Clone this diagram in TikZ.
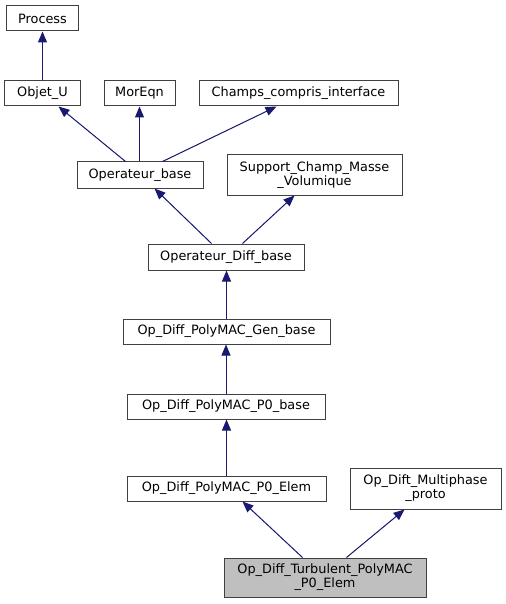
\documentclass[tikz,border=0pt]{standalone}
\usepackage{fontspec}
\setmainfont{DejaVu Sans}
\usetikzlibrary{arrows.meta,calc}
\definecolor{edgeblue}{HTML}{191970}
\definecolor{boxgray}{HTML}{404040}
\begin{document}
\begin{tikzpicture}[x=1bp,y=-1bp,
  cls/.style={draw=boxgray,line width=1bp,fill=white,inner sep=0pt,align=center,
    font=\fontsize{12.9}{14}\selectfont},
  cur/.style={cls,fill=black!25},
  inh/.style={draw=edgeblue,line width=1bp,-{Triangle[length=11bp,width=9bp]},fill=edgeblue}]
\useasboundingbox (0,0) rectangle (506,604);
\node[cls,minimum width=71bp,minimum height=25bp] (process) at (42.5,18.5) {Process};
\node[cls,minimum width=75bp,minimum height=25bp] (objet) at (42.5,93.5) {Objet\_U};
\node[cls,minimum width=71bp,minimum height=25bp] (moreqn) at (139.5,93.5) {MorEqn};
\node[cls,minimum width=199bp,minimum height=25bp] (champs) at (298.5,93.5) {Champs\_compris\_interface};
\node[cls,minimum width=126bp,minimum height=26bp] (opb) at (140,175) {Operateur\_base};
\node[cls,minimum width=175bp,minimum height=40bp] (support) at (314.5,175) {Support\_Champ\_Masse\\\_Volumique};
\node[cls,minimum width=156bp,minimum height=26bp] (odb) at (226,257) {Operateur\_Diff\_base};
\node[cls,minimum width=207bp,minimum height=25bp] (gen) at (226.5,331.5) {Op\_Diff\_PolyMAC\_Gen\_base};
\node[cls,minimum width=198bp,minimum height=25bp] (p0base) at (226,406.5) {Op\_Diff\_PolyMAC\_P0\_base};
\node[cls,minimum width=199bp,minimum height=25bp] (p0elem) at (226.5,488.5) {Op\_Diff\_PolyMAC\_P0\_Elem};
\node[cls,minimum width=151bp,minimum height=41bp] (multi) at (425.5,488.5) {Op\_Dift\_Multiphase\\\_proto};
\node[cur,minimum width=202bp,minimum height=39bp] (turb) at (325,577.5) {Op\_Diff\_Turbulent\_PolyMAC\\\_P0\_Elem};
\draw[inh] (objet.north) -- (process.south);
\draw[inh] ($(opb.north west)+(49,0)$) -- ($(objet.south east)+(-22,0)$);
\draw[inh] (opb.north -| moreqn.south) -- (moreqn.south);
\draw[inh] ($(opb.north west)+(86,0)$) -- ($(champs.south west)+(78,0)$);
\draw[inh] ($(odb.north west)+(64,0)$) -- ($(opb.south west)+(78,0)$);
\draw[inh] ($(odb.north west)+(95,0)$) -- ($(support.south west)+(68,0)$);
\draw[inh] (gen.north) -- (gen.north |- odb.south);
\draw[inh] (p0base.north) -- (p0base.north |- gen.south);
\draw[inh] (p0elem.north) -- (p0elem.north |- p0base.south);
\draw[inh] ($(turb.north west)+(79,0)$) -- ($(p0elem.south west)+(116,0)$);
\draw[inh] ($(turb.north west)+(123,0)$) -- ($(multi.south west)+(55,0)$);
\end{tikzpicture}
\end{document}
